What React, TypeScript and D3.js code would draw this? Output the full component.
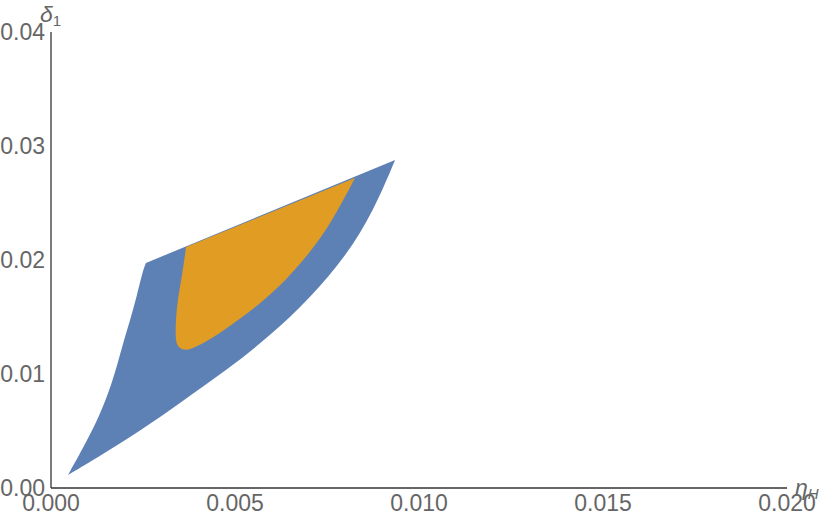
import * as d3 from "d3";

// boundary of the blue region (eta_H, delta_1), traced from the bottom tip
// left edge (bottom tip -> upper-left corner)
const blueLeftEta = [0.000462, 0.00087, 0.00125, 0.00152, 0.00174, 0.00196, 0.00215, 0.00234, 0.0025, 0.00258];
const blueLeftDelta = [0.00114, 0.00351, 0.00588, 0.00798, 0.01009, 0.01272, 0.01474, 0.01693, 0.01912, 0.01974];
// lower-right edge (upper-right tip -> bottom tip)
const blueRightEta = [0.00935, 0.00875, 0.00804, 0.00704, 0.00595, 0.00478, 0.0035, 0.00242, 0.00133, 0.000462];
const blueRightDelta = [0.02877, 0.02421, 0.02044, 0.01667, 0.01333, 0.01035, 0.00746, 0.005, 0.00281, 0.00114];

// boundary of the orange region: top-right corner, around the bottom, up to top-left corner
const orangeEta = [
  0.00826, 0.00766, 0.00704, 0.00614, 0.00522, 0.00432, 0.00385, 0.0037, 0.00355,
  0.00343, 0.00337, 0.00342, 0.00356, 0.00367,
];
const orangeDelta = [
  0.02719, 0.02351, 0.02061, 0.01737, 0.015, 0.01298, 0.01225, 0.01211, 0.01215,
  0.01245, 0.01325, 0.01623, 0.01851, 0.02114,
];

const xTicks = [0, 0.005, 0.01, 0.015, 0.02];
const yTicks = [0, 0.01, 0.02, 0.03, 0.04];

const W = 822;
const H = 518;

export default function App() {
  const x = d3.scaleLinear().domain([0, 0.02]).range([51, 787]);
  const y = d3.scaleLinear().domain([0, 0.04]).range([488, 32]);

  const smooth = d3
    .line<[number, number]>()
    .x((d) => x(d[0]))
    .y((d) => y(d[1]))
    .curve(d3.curveBasis);

  const pts = (e: number[], d: number[]) => e.map((v, i) => [v, d[i]] as [number, number]);

  // curved edges joined by straight segments
  const blueLeft = smooth(pts(blueLeftEta, blueLeftDelta)) ?? "";
  const blueRight = (smooth(pts(blueRightEta, blueRightDelta)) ?? "").replace(/^M/, "L");
  const bluePath = blueLeft + blueRight + "Z";

  const orangePath = (smooth(pts(orangeEta, orangeDelta)) ?? "") + "Z";

  const font = "'Liberation Sans', Arial, sans-serif";

  return (
    <svg
      width={W}
      height={H}
      style={{ position: "absolute", left: 0, top: 0, background: "#fff" }}
    >
      <path d={bluePath} fill="#5E81B5" />
      <path d={orangePath} fill="#E19C24" />

      {/* axes */}
      <line x1={x(0)} x2={x(0.02)} y1={y(0)} y2={y(0)} stroke="#333" strokeWidth={1.3} />
      <line x1={x(0)} x2={x(0)} y1={y(0)} y2={y(0.04)} stroke="#333" strokeWidth={1.3} />

      {xTicks.map((t) => (
        <text
          key={"x" + t}
          x={x(t)}
          y={511}
          textAnchor="middle"
          fontFamily={font}
          fontSize={23}
          fill="#666"
        >
          {d3.format(".3f")(t)}
        </text>
      ))}
      {yTicks.map((t) => (
        <text
          key={"y" + t}
          x={45}
          y={y(t) + 8}
          textAnchor="end"
          fontFamily={font}
          fontSize={23}
          fill="#666"
        >
          {d3.format(".2f")(t)}
        </text>
      ))}

      {/* axis labels */}
      <text x={40} y={22} fontFamily={font} fontSize={23} fill="#666">
        <tspan fontStyle="italic">δ</tspan>
        <tspan fontSize={15} dy={4}>1</tspan>
      </text>
      <text x={795} y={495} fontFamily={font} fontSize={23} fill="#666">
        <tspan fontStyle="italic">η</tspan>
        <tspan fontSize={15} fontStyle="italic" dy={4}>H</tspan>
      </text>
    </svg>
  );
}
